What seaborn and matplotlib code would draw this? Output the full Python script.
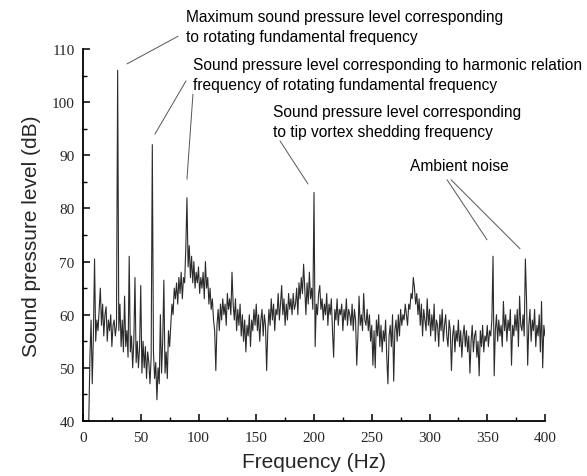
import numpy as np
import pandas as pd
import seaborn as sns
import matplotlib
matplotlib.use("Agg")
import matplotlib.pyplot as plt
from matplotlib.ticker import MultipleLocator

# Frequency axis (Hz), 1 Hz steps from 5 to 400
freq_start = 5
freq_stop = 400

# Sound pressure level (dB), in blocks of 10 Hz
spl_005_009 = [40, 52, 59, 47, 56]
spl_010_019 = [70.5, 55, 59, 57, 61, 65, 58, 62, 56, 60]
spl_020_029 = [61.5, 55, 59, 57, 60, 54, 58, 59, 56, 58]
spl_030_039 = [106, 57, 62, 54, 59, 53, 63.5, 54, 57, 52]
spl_040_049 = [71, 53, 56, 50, 55, 67, 51, 55, 50, 54]
spl_050_059 = [65.5, 49, 55, 50, 54, 48, 53, 51, 47, 52]
spl_060_069 = [92, 53, 48, 51, 44, 50, 47, 60, 49, 55]
spl_070_079 = [66.5, 49, 53, 48, 57, 54, 58, 62, 60, 65]
spl_080_089 = [63, 66, 62, 67, 64, 68, 63, 67, 66, 72.5]
spl_090_099 = [82, 69, 73, 67, 71, 66, 70, 65, 68, 66]
spl_100_109 = [69, 64, 67, 65, 68, 63, 70, 65, 67, 62]
spl_110_119 = [65, 61, 63, 59, 57, 49.5, 58, 61, 57, 62]
spl_120_129 = [59, 63, 60, 62, 58, 64, 61, 63, 60, 68]
spl_130_139 = [62, 59, 63, 57, 61, 58, 62, 56, 60, 55]
spl_140_149 = [59, 53, 58, 56, 60, 54, 59, 57, 61, 58]
spl_150_159 = [62, 57, 60, 55, 59, 61, 56, 60, 58, 49.5]
spl_160_169 = [57, 61, 58, 63, 59, 62, 57, 61, 60, 64]
spl_170_179 = [59, 62, 65.5, 60, 63, 58, 62, 59, 64, 61]
spl_180_189 = [63, 60, 64, 61, 62, 65, 60, 66, 63, 67]
spl_190_199 = [64, 69.5, 65, 60, 66, 62, 68, 63, 65, 61]
spl_200_209 = [83, 54, 62, 60, 64, 65.5, 61, 63, 59, 62]
spl_210_219 = [60, 64, 58, 62, 60, 63, 57, 52, 61, 59]
spl_220_229 = [63, 58, 61, 60, 62, 57, 61, 59, 63, 58]
spl_230_239 = [61, 60, 58, 62, 57, 61, 59, 50.5, 56, 63.5]
spl_240_249 = [58, 60, 57, 64, 59, 58, 61, 57, 60, 55]
spl_250_259 = [58, 50.5, 57, 50, 59, 56, 60, 54, 58, 53]
spl_260_269 = [57, 55, 59, 52, 47, 56, 58, 54, 60, 47.5]
spl_270_279 = [57, 59, 55, 60, 56, 61, 58, 60, 59, 62]
spl_280_289 = [60, 58, 62, 61, 64, 63, 67, 65, 62, 64]
spl_290_299 = [60, 63, 58, 62, 56, 61, 59, 57, 63, 58]
spl_300_309 = [61, 56, 60, 57, 62, 55, 59, 58, 54, 60]
spl_310_319 = [57, 61, 55, 58, 60, 56, 54, 59, 57, 49.5]
spl_320_329 = [56, 58, 53, 57, 55, 59, 54, 57, 52, 56]
spl_330_339 = [58, 54, 57, 53, 56, 49, 55, 58, 53, 56]
spl_340_349 = [57, 52, 55, 48.5, 57, 54, 58, 53, 56, 55]
spl_350_359 = [58, 54, 57, 56, 59, 71, 48.5, 57, 60, 55]
spl_360_369 = [59, 56, 58, 54, 62.5, 57, 60, 55, 59, 57]
spl_370_379 = [61, 50.5, 58, 56, 60, 57, 61, 54, 63.5, 58]
spl_380_389 = [57, 60, 56, 70.5, 63, 50.5, 58, 61, 55, 59]
spl_390_399 = [57, 61, 54, 58, 56, 60, 53, 62.5, 50, 58]
spl_400_400 = [56]

x_ticks = [0, 50, 100, 150, 200, 250, 300, 350, 400]
y_ticks = [40, 50, 60, 70, 80, 90, 100, 110]

x_label = "Frequency (Hz)"
y_label = "Sound pressure level (dB)"

ann_max = "Maximum sound pressure level corresponding\nto rotating fundamental frequency"
ann_harm = "Sound pressure level corresponding to harmonic relation\nfrequency of rotating fundamental frequency"
ann_tip = "Sound pressure level corresponding\nto tip vortex shedding frequency"
ann_amb = "Ambient noise"

blocks = [spl_005_009, spl_010_019, spl_020_029, spl_030_039, spl_040_049,
          spl_050_059, spl_060_069, spl_070_079, spl_080_089, spl_090_099,
          spl_100_109, spl_110_119, spl_120_129, spl_130_139, spl_140_149,
          spl_150_159, spl_160_169, spl_170_179, spl_180_189, spl_190_199,
          spl_200_209, spl_210_219, spl_220_229, spl_230_239, spl_240_249,
          spl_250_259, spl_260_269, spl_270_279, spl_280_289, spl_290_299,
          spl_300_309, spl_310_319, spl_320_329, spl_330_339, spl_340_349,
          spl_350_359, spl_360_369, spl_370_379, spl_380_389, spl_390_399,
          spl_400_400]
spl = [v for b in blocks for v in b]
freq = list(range(freq_start, freq_stop + 1))
df = pd.DataFrame({"f": freq, "spl": spl})

sns.set_theme(style="ticks")
plt.rcParams["font.family"] = ["Liberation Sans", "DejaVu Sans"]

W, H = 587, 477
fig = plt.figure(figsize=(W / 100, H / 100), dpi=100)
ax = fig.add_axes([83 / W, 1 - 422 / H, 462 / W, 372 / H])

sns.lineplot(data=df, x="f", y="spl", ax=ax, color="#2b2b2b", linewidth=0.8,
             estimator=None, sort=False)

ax.set_xlim(0, 400)
ax.set_ylim(40, 110)
ax.set_xticks(x_ticks)
ax.set_yticks(y_ticks)
ax.xaxis.set_minor_locator(MultipleLocator(25))
ax.yaxis.set_minor_locator(MultipleLocator(5))
ax.tick_params(which="major", direction="in", length=5, width=1.1, color="black",
               labelsize=11)
ax.tick_params(axis="x", which="major", pad=7)
ax.tick_params(axis="y", which="major", pad=6)
ax.tick_params(which="minor", direction="in", length=3, width=1.0, color="black")
for lab in ax.get_xticklabels() + ax.get_yticklabels():
    lab.set_fontfamily(["Liberation Serif", "DejaVu Serif"])
for s in ["top", "right"]:
    ax.spines[s].set_visible(False)
for s in ["left", "bottom"]:
    ax.spines[s].set_linewidth(1.3)
    ax.spines[s].set_color("black")

ax.set_xlabel(x_label, fontsize=15, labelpad=6)
ax.set_ylabel(y_label, fontsize=15, labelpad=8)

line_kw = dict(color="#555555", linewidth=0.7, clip_on=False)
segments = [
    ((38.1, 107.2), (82.3, 112.4)),
    ((62.3, 94.0), (89.2, 104.0)),
    ((95.2, 101.5), (90.0, 85.5)),
    ((170.6, 92.7), (194.8, 84.6)),
    ((315.2, 85.4), (349.8, 74.1)),
    ((318.6, 85.4), (378.4, 72.4)),
]
for (a, b) in segments:
    ax.plot([a[0], b[0]], [a[1], b[1]], **line_kw)

txt_kw = dict(fontsize=11.2, va="top", ha="left", linespacing=1.38, color="black")
fig.text(186 / W, 1 - 10 / H, ann_max, **txt_kw)
fig.text(193 / W, 1 - 58 / H, ann_harm, **txt_kw)
fig.text(273 / W, 1 - 105 / H, ann_tip, **txt_kw)
fig.text(410 / W, 1 - 159 / H, ann_amb, **txt_kw)

fig.savefig("out.png", dpi=100)
